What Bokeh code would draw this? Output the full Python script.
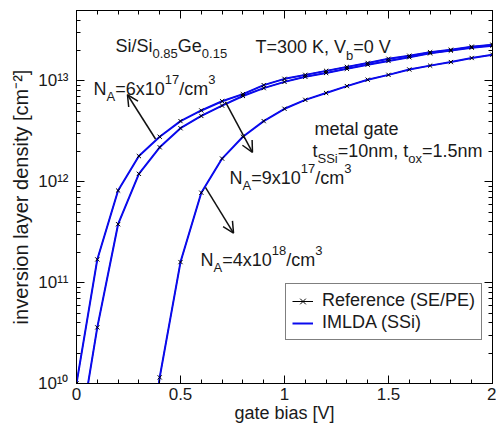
from bokeh.plotting import figure
from bokeh.models import (Label, Arrow, OpenHead, FixedTicker, LinearAxis, LogAxis,
                          Legend, LegendItem)
from bokeh.embed import file_html
from bokeh.resources import INLINE

# ---------------- data ----------------
bias = [0.0, 0.1, 0.2, 0.3, 0.4, 0.5, 0.6, 0.7, 0.8, 0.9, 1.0,
        1.1, 1.2, 1.3, 1.4, 1.5, 1.6, 1.7, 1.8, 1.9, 2.0]
n_6e17 = [1.0e10, 1.7e11, 8.2e11, 1.8e12, 2.8e12, 4.0e12, 5.1e12, 6.3e12, 7.4e12, 9.1e12, 1.05e13,
          1.15e13, 1.26e13, 1.38e13, 1.51e13, 1.66e13, 1.78e13, 1.93e13, 2.04e13, 2.19e13, 2.29e13]
n_9e17 = [2.0e9, 3.6e10, 3.8e11, 1.2e12, 2.2e12, 3.4e12, 4.5e12, 5.7e12, 7.1e12, 8.5e12, 9.8e12,
          1.10e13, 1.20e13, 1.32e13, 1.45e13, 1.58e13, 1.72e13, 1.88e13, 2.0e13, 2.14e13, 2.24e13]
bias_4e18 = [0.3, 0.4, 0.5, 0.6, 0.7, 0.8, 0.9, 1.0, 1.1, 1.2, 1.3, 1.4, 1.5, 1.6, 1.7, 1.8, 1.9, 2.0]
n_4e18 = [4.0e8, 1.15e10, 1.6e11, 7.8e11, 1.7e12, 2.8e12, 4.0e12, 5.3e12, 6.5e12, 7.6e12, 8.9e12,
          1.03e13, 1.15e13, 1.3e13, 1.42e13, 1.54e13, 1.69e13, 1.82e13]

x_major = [0, 0.5, 1, 1.5, 2]
x_labels = ["0", "0.5", "1", "1.5", "2"]
x_minor = [i / 10 for i in range(21)]
y_exponents = [10, 11, 12, 13]
y_labels = ["10\u00b9\u2070", "10\u00b9\u00b9", "10\u00b9\u00b2", "10\u00b9\u00b3"]
y_minor = [m * 10.0 ** k for k in range(10, 14) for m in range(2, 10) if m * 10.0 ** k <= 5e13]

# arrows: (x_start, y_start, x_end, y_end)
arrows = [(0.380, 2.66e12, 0.245, 7.3e12),
          (0.716, 6.2e12, 0.846, 1.96e12),
          (0.620, 8.8e11, 0.755, 3.1e11)]

XMIN, XMAX, YMIN, YMAX = 0, 2, 1e10, 5e13

FONT = "Liberation Sans"
TC = "#1a1a1a"
BLUE = "#0a0aee"

W = {' ': 278, '(': 333, ')': 333, ',': 278, '-': 333, '.': 278, '/': 278, '=': 584,
     '[': 278, ']': 278, 'A': 667, 'E': 667, 'G': 778, 'I': 278, 'K': 667, 'L': 556,
     'D': 722, 'M': 833, 'N': 722, 'P': 667, 'R': 722, 'S': 667, 'T': 611, 'V': 667,
     'a': 556, 'b': 556, 'c': 500, 'd': 556, 'e': 556, 'f': 278, 'g': 556, 'i': 222,
     'l': 222, 'm': 833, 'n': 556, 'o': 556, 'r': 333, 's': 500, 't': 278, 'v': 500,
     'x': 500, 'y': 500}


def tw(txt, size):
    return sum(W.get(c, 556) for c in txt) * size / 1000.0


p = figure(width=496, height=428, x_range=(XMIN, XMAX), y_range=(YMIN, YMAX),
           y_axis_type="log", output_backend="svg", toolbar_location=None,
           min_border_left=76, min_border_right=4, min_border_top=10, min_border_bottom=45)
p.background_fill_color = "white"
p.border_fill_color = "white"
p.outline_line_color = "#000000"
p.outline_line_width = 1
p.grid.visible = False

FX0, FY0 = 76, 383  # page position of frame bottom-left


def style_axis(ax, labels=False):
    ax.axis_line_color = "#000000"
    ax.major_tick_line_color = "#000000"
    ax.minor_tick_line_color = "#000000"
    ax.major_tick_in = 8
    ax.major_tick_out = 0
    ax.minor_tick_in = 4
    ax.minor_tick_out = 0
    if not labels:
        ax.major_label_text_font_size = "1px"
        ax.major_label_text_alpha = 0
        ax.major_label_standoff = 0


xt = FixedTicker(ticks=x_major, minor_ticks=x_minor)
yt = FixedTicker(ticks=[10.0 ** k for k in y_exponents], minor_ticks=y_minor)

xa = p.xaxis[0]
xa.ticker = xt
style_axis(xa, labels=True)
xa.major_label_overrides = {v: s for v, s in zip(x_major, x_labels)}
xa.major_label_text_font = FONT
xa.major_label_text_font_size = "17px"
xa.major_label_text_color = TC
xa.major_label_standoff = 4
xa.axis_label = "gate bias [V]"
xa.axis_label_text_font = FONT
xa.axis_label_text_font_size = "18px"
xa.axis_label_text_font_style = "normal"
xa.axis_label_text_color = TC
xa.axis_label_standoff = 0

ya = p.yaxis[0]
ya.ticker = yt
style_axis(ya, labels=True)
ya.major_label_overrides = {10.0 ** k: s for k, s in zip(y_exponents, y_labels)}
ya.major_label_text_font = FONT
ya.major_label_text_font_size = "17px"
ya.major_label_text_color = TC
ya.major_label_standoff = 8
ya.axis_label = "inversion layer density [cm\u207b\u00b2]"
ya.axis_label_text_font = FONT
ya.axis_label_text_font_size = "20px"
ya.axis_label_text_font_style = "normal"
ya.axis_label_text_color = TC
ya.axis_label_standoff = 3

top = LinearAxis(ticker=xt)
style_axis(top)
p.add_layout(top, "above")
right = LogAxis(ticker=yt)
style_axis(right)
p.add_layout(right, "right")

# ---------------- curves ----------------
curves = [(bias, n_6e17), (bias, n_9e17), (bias_4e18, n_4e18)]
ref_lines, blue_lines, marks = [], [], []
for xs, ys in curves:
    ref_lines.append(p.line(xs, ys, line_color="black", line_width=1))
for xs, ys in curves:
    blue_lines.append(p.line(xs, ys, line_color=BLUE, line_width=2))
for xs, ys in curves:
    marks.append(p.scatter(xs, ys, marker="x", size=6, line_color="black", line_width=1))

# ---------------- arrows ----------------
for xs0, ys0, xe, ye in arrows:
    p.add_layout(Arrow(x_start=xs0, y_start=ys0, x_end=xe, y_end=ye,
                       line_color="#111111", line_width=1.5,
                       end=OpenHead(size=11, line_color="#111111", line_width=1.5)))


# ---------------- rich text helper ----------------
def rich(px, py, parts, size=18, sub_size=13, sup_dy=9, sub_dy=-8):
    x = px
    for txt, kind in parts:
        fs = size if kind == "n" else sub_size
        dy = 0 if kind == "n" else (sup_dy if kind == "sup" else sub_dy)
        p.add_layout(Label(x=XMIN, y=YMIN, x_offset=x - FX0, y_offset=(FY0 - py) + dy,
                           text=txt, text_font=FONT, text_font_size=f"{fs}px",
                           text_color=TC, text_baseline="alphabetic", text_align="left"))
        x += tw(txt, fs)


rich(115, 45, [("Si/Si", "n"), ("0.85", "sub"), ("Ge", "n"), ("0.15", "sub")])
rich(255, 46.5, [("T=300 K, V", "n"), ("b", "sub"), ("=0 V", "n")])
rich(93, 88, [("N", "n"), ("A", "sub"), ("=6x10", "n"), ("17", "sup"), ("/cm", "n"), ("3", "sup")])
rich(314, 128, [("metal gate", "n")])
rich(312, 150, [("t", "n"), ("SSi", "sub"), ("=10nm, t", "n"), ("ox", "sub"), ("=1.5nm", "n")])
rich(229, 177, [("N", "n"), ("A", "sub"), ("=9x10", "n"), ("17", "sup"), ("/cm", "n"), ("3", "sup")])
rich(200, 259, [("N", "n"), ("A", "sub"), ("=4x10", "n"), ("18", "sup"), ("/cm", "n"), ("3", "sup")])

# ---------------- legend ----------------
legend = Legend(items=[LegendItem(label="Reference (SE/PE)", renderers=[ref_lines[0], marks[0]]),
                       LegendItem(label="IMLDA (SSi)", renderers=[blue_lines[0]])],
                location=(209, 43), orientation="vertical")
legend.label_text_font = FONT
legend.label_text_font_size = "18px"
legend.label_text_color = TC
legend.glyph_width = 21
legend.glyph_height = 20
legend.label_height = 20
legend.label_standoff = 9
legend.padding = 6
legend.spacing = 1
legend.margin = 0
legend.border_line_color = "#000000"
legend.border_line_width = 1
legend.background_fill_color = "white"
legend.background_fill_alpha = 1
p.add_layout(legend)

open("out.html", "w").write(file_html(p, INLINE))
